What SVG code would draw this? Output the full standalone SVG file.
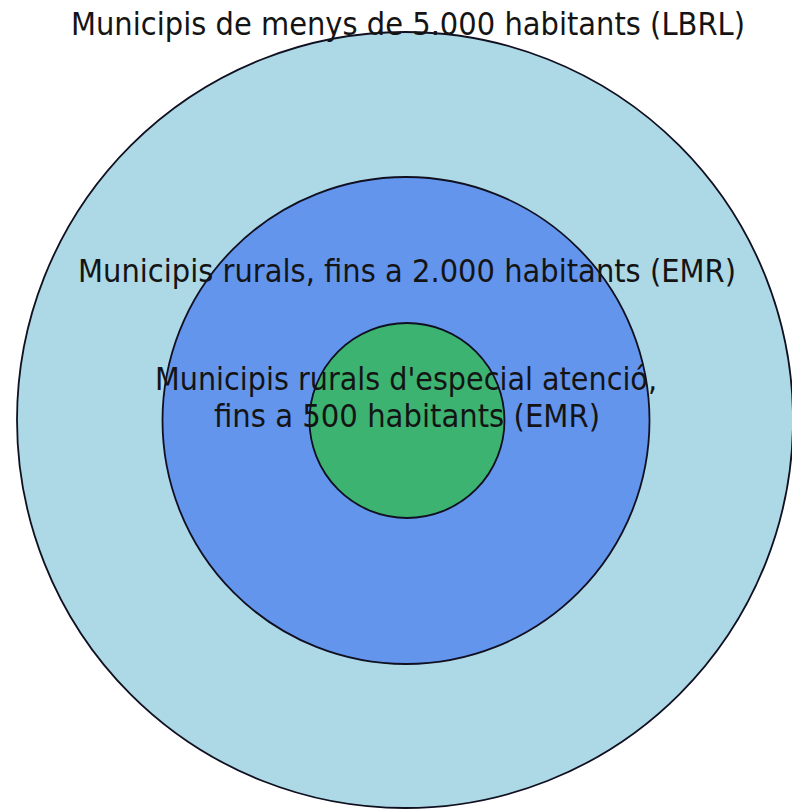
<svg xmlns="http://www.w3.org/2000/svg" width="792" height="809" viewBox="0 0 792 809">
<style>
.ring{stroke:#101020;stroke-width:1.8}
.lbl{font-family:"DejaVu Sans",sans-serif;font-size:32px;fill:#141414;text-anchor:middle}
</style>
<rect width="792" height="809" fill="#ffffff"/>
<g id="connectors"/>
<g id="node-lbrl">
<circle class="ring" cx="405" cy="420" r="388" fill="#ADD8E6"/>
</g>
<g id="node-emr2000">
<circle class="ring" cx="406" cy="420.5" r="243.5" fill="#6495ED"/>
</g>
<g id="node-emr500">
<circle class="ring" cx="407" cy="420.5" r="97.5" fill="#3CB371"/>
</g>
<g id="labels">
<text class="lbl" x="408" y="35" textLength="674" lengthAdjust="spacingAndGlyphs">Municipis de menys de 5.000 habitants (LBRL)</text>
<text class="lbl" x="407" y="282" textLength="658" lengthAdjust="spacingAndGlyphs">Municipis rurals, fins a 2.000 habitants (EMR)</text>
<text class="lbl" x="406" y="390" textLength="502" lengthAdjust="spacingAndGlyphs">Municipis rurals d'especial atenció,</text>
<text class="lbl" x="407" y="427" textLength="386" lengthAdjust="spacingAndGlyphs">fins a 500 habitants (EMR)</text>
</g>
</svg>
